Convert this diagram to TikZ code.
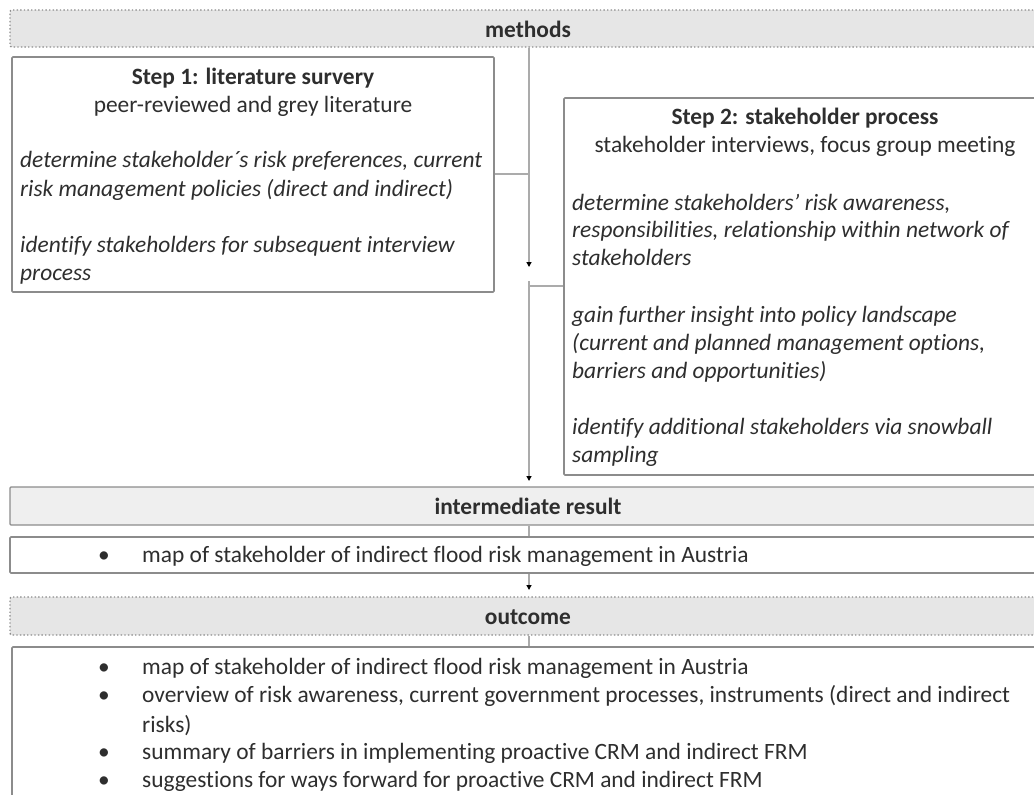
\documentclass[tikz,border=0pt]{standalone}
\usepackage{fontspec}
\setmainfont{Carlito}[Ligatures={NoCommon,NoContextual}]
\usetikzlibrary{arrows.meta}
\definecolor{txt}{HTML}{2E2E2E}
\definecolor{ln}{HTML}{ABABAB}
\definecolor{bx}{HTML}{8C8C8C}
\definecolor{barfill}{HTML}{E6E6E6}
\definecolor{barfilltwo}{HTML}{EFEFEF}
\begin{document}
\begin{tikzpicture}[x=1pt,y=-1pt,
  every node/.style={text=txt, font=\fontsize{23.4}{28}\selectfont},
  dotbar/.style={draw=bx, fill=barfill, line width=1.4pt, dash pattern=on 1.4pt off 2.2pt, rounded corners=2pt, inner sep=0pt},
  solidbar/.style={draw=bx, fill=barfilltwo, line width=1.4pt, rounded corners=1pt, inner sep=0pt},
  whitebox/.style={draw=bx, fill=white, line width=1.6pt, rounded corners=1pt, inner sep=0pt},
  conn/.style={draw=ln, line width=1.4pt},
  arr/.style={conn, -{Triangle[length=5pt,width=5pt,color=black,fill=black]}},
  ttl/.style={anchor=base, inner sep=0pt, font=\fontsize{23.4}{28}\selectfont\bfseries},
  sub/.style={anchor=base, inner sep=0pt},
  itl/.style={anchor=base west, inner sep=0pt, font=\fontsize{23.4}{28}\selectfont\itshape},
  lst/.style={anchor=base west, inner sep=0pt},
  bul/.style={anchor=base, inner sep=0pt}
]
\useasboundingbox (0,0) rectangle (1034,795);
\clip (0,0) rectangle (1034,795);

% bars and boxes
\node[dotbar, minimum width=1036pt, minimum height=37pt] (methods) at (528,28.5) {};
\node[whitebox, minimum width=482pt, minimum height=235pt] (s1) at (253,174.5) {};
\node[whitebox, minimum width=482pt, minimum height=377pt] (s2) at (805,286.5) {};
\node[solidbar, minimum width=1036pt, minimum height=38pt] (ir) at (528,506) {};
\node[whitebox, minimum width=1036pt, minimum height=36pt] (map) at (528,555) {};
\node[dotbar, minimum width=1036pt, minimum height=38pt] (outcome) at (528,616) {};
\node[whitebox, minimum width=1034pt, minimum height=180pt] (final) at (529,737) {};

% connectors
\coordinate (a1) at (529,267);
\coordinate (j1) at (529,174);
\coordinate (b0) at (529,281);
\coordinate (j2) at (529,286);
\coordinate (a2) at (529,481);
\coordinate (a3) at (529,590);
\draw[arr] (methods.south -| a1) -- (a1);
\draw[conn] (s1.east |- j1) -- (j1);
\draw[arr] (b0) -- (a2);
\draw[conn] (j2) -- (s2.west |- j2);
\draw[conn] (ir.south -| a1) -- (map.north -| a1);
\draw[arr] (map.south -| a1) -- (a3);
\draw[conn] (outcome.south -| a1) -- (final.north -| a1);

% bar labels
\node[ttl] (tm) at (528,37) {methods};
\node[ttl] (ti) at (528,514) {intermediate result};
\node[ttl] (to) at (528,624) {outcome};

% step 1
\node[ttl] (s1t) at (253,84) {Step 1: literature survery};
\node[sub] (s1s) at (253,112) {peer-reviewed and grey literature};
\node[itl] (s1a) at (20,167) {determine stakeholder´s risk preferences, current};
\node[itl] (s1b) at (20,196) {risk management policies (direct and indirect)};
\node[itl] (s1c) at (20,252) {identify stakeholders for subsequent interview};
\node[itl] (s1d) at (20,280) {process};

% step 2
\node[ttl] (s2t) at (805,124) {Step 2: stakeholder process};
\node[sub] (s2s) at (805,152) {stakeholder interviews, focus group meeting};
\node[itl] (s2a) at (572,210) {determine stakeholders’ risk awareness,};
\node[itl] (s2b) at (572,237) {responsibilities, relationship within network of};
\node[itl] (s2c) at (572,265) {stakeholders};
\node[itl] (s2d) at (572,322) {gain further insight into policy landscape};
\node[itl] (s2e) at (572,350) {(current and planned management options,};
\node[itl] (s2f) at (572,378) {barriers and opportunities)};
\node[itl] (s2g) at (572,434) {identify additional stakeholders via snowball};
\node[itl] (s2h) at (572,462) {sampling};

% intermediate result list
\node[bul] (mb) at (104,562) {•};
\node[lst] (mt) at (142,562) {map of stakeholder of indirect flood risk management in Austria};

% outcome list
\node[bul] (o1b) at (104,674) {•};
\node[lst] (o1) at (142,674) {map of stakeholder of indirect flood risk management in Austria};
\node[bul] (o2b) at (104,702) {•};
\node[lst] (o2) at (142,702) {overview of risk awareness, current government processes, instruments (direct and indirect};
\node[lst] (o2c) at (142,732) {risks)};
\node[bul] (o3b) at (104,759) {•};
\node[lst] (o3) at (142,759) {summary of barriers in implementing proactive CRM and indirect FRM};
\node[bul] (o4b) at (104,787) {•};
\node[lst] (o4) at (142,787) {suggestions for ways forward for proactive CRM and indirect FRM};
\end{tikzpicture}
\end{document}
